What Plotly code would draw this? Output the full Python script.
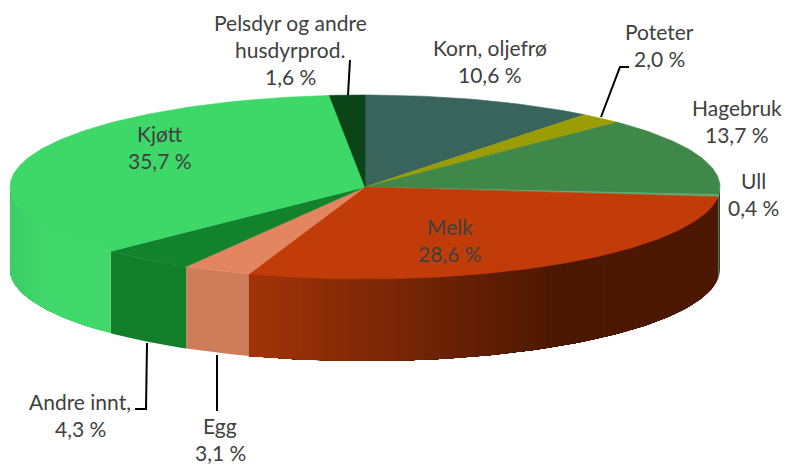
import math
import plotly.graph_objects as go

# ---- data ----
categories = ["Korn, oljefrø", "Poteter", "Hagebruk", "Ull", "Melk", "Egg",
              "Andre innt,", "Kjøtt", "Pelsdyr og andre|husdyrprod."]
values = [10.6, 2.0, 13.7, 0.4, 28.6, 3.1, 4.3, 35.7, 1.6]

# ---- styles ----
top_colors = ["#38645C", "#9A9E04", "#40884A", "#5FA870", "#C13C08", "#E38560",
              "#12822C", "#3ED868", "#0A4416"]
wall_start = {"Hagebruk": (34, 74, 40), "Ull": (50, 90, 60), "Melk": (163, 52, 9),
              "Egg": (205, 125, 90), "Andre innt,": (18, 126, 42), "Kjøtt": (65, 216, 107)}
wall_end = {"Hagebruk": (34, 74, 40), "Ull": (50, 90, 60), "Melk": (76, 23, 3),
            "Egg": (205, 125, 90), "Andre innt,": (18, 126, 42), "Kjøtt": (60, 205, 103)}
CX, CY, RX, RY, DEPTH = 365, 187, 355, 92, 82
label_pos = [(490, 47), (659, 31), (737, 107), (753, 180), (450, 226), (220, 425),
             (80, 401), (160, 133), (290, 22)]
LINE_H = 27.3
leaders = [[(350, 60), (348, 95)],
           [(629, 67), (620, 67), (601, 117)],
           [(135, 409), (146, 409), (147, 343)],
           [(217, 411), (217, 355)]]


def pt(deg):
    a = math.radians(deg)
    return CX + RX * math.sin(a), CY - RY * math.cos(a)


def poly(fig, xs, ys, color, width=0.6):
    fig.add_trace(go.Scatter(x=xs, y=ys, mode="lines", fill="toself", fillcolor=color,
                             line=dict(color=color, width=width), hoverinfo="skip",
                             showlegend=False))


def wall(fig, a0, a1, color):
    """Side wall between two angles; painted over what lies further on."""
    n = max(2, int(a1 - a0))
    pts = [pt(a0 + (a1 - a0) * k / n) for k in range(n + 1)]
    xs = [p[0] for p in pts] + [p[0] for p in reversed(pts)]
    ys = [p[1] for p in pts] + [p[1] + DEPTH for p in reversed(pts)]
    poly(fig, xs + xs[:1], ys + ys[:1], color, width=0)


fig = go.Figure()
total = sum(values)
bounds = [0]
for v in values:
    bounds.append(bounds[-1] + v / total * 360)

# side walls, front half only
for i, name in enumerate(categories):
    lo, hi = max(bounds[i], 90), min(bounds[i + 1], 270)
    if hi <= lo:
        continue
    s0, s1 = wall_start[name], wall_end[name]
    if s0 == s1:
        wall(fig, lo, hi, f"rgb({s0[0]},{s0[1]},{s0[2]})")
        continue
    n = max(1, int((hi - lo) / 1.5))
    for k in range(n):
        a0 = lo + (hi - lo) * k / n
        xm = pt(a0)[0]
        if name == "Melk":
            t = min(1, max(0, (250 - xm) / (250 - 560)))
        else:
            t = max(0, min(1, (50 - xm) / 40))
        c = tuple(round(s0[j] + (s1[j] - s0[j]) * t) for j in range(3))
        wall(fig, a0, hi, f"rgb({c[0]},{c[1]},{c[2]})")

# top face
for i in range(len(values)):
    lo, hi = bounds[i], bounds[i + 1]
    n = max(2, int((hi - lo) / 1))
    pts = [pt(lo + (hi - lo) * k / n) for k in range(n + 1)]
    xs = [CX] + [p[0] for p in pts] + [CX]
    ys = [CY] + [p[1] for p in pts] + [CY]
    poly(fig, xs, ys, top_colors[i])

# leader lines
for seg in leaders:
    fig.add_trace(go.Scatter(x=[p[0] for p in seg], y=[p[1] for p in seg], mode="lines",
                             line=dict(color="#000000", width=2), hoverinfo="skip",
                             showlegend=False))

# labels
for name, v, (lx, ly) in zip(categories, values, label_pos):
    lines = name.split("|") + [f"{v:.1f}".replace(".", ",") + " %"]
    for j, txt in enumerate(lines):
        fig.add_annotation(x=lx, y=ly + j * LINE_H, text=txt, showarrow=False,
                           xanchor="center", yanchor="middle",
                           font=dict(family="Lato", size=21, color="#404040"))

fig.update_layout(
    width=785, height=465, margin=dict(l=0, r=0, t=0, b=0),
    paper_bgcolor="#FFFFFF", plot_bgcolor="#FFFFFF", showlegend=False,
    xaxis=dict(range=[0, 785], visible=False, fixedrange=True),
    yaxis=dict(range=[465, 0], visible=False, fixedrange=True),
)
fig.write_html("out.html", config={"displayModeBar": False},
               post_script="document.body.style.margin='0';document.documentElement.style.overflow='hidden';")
